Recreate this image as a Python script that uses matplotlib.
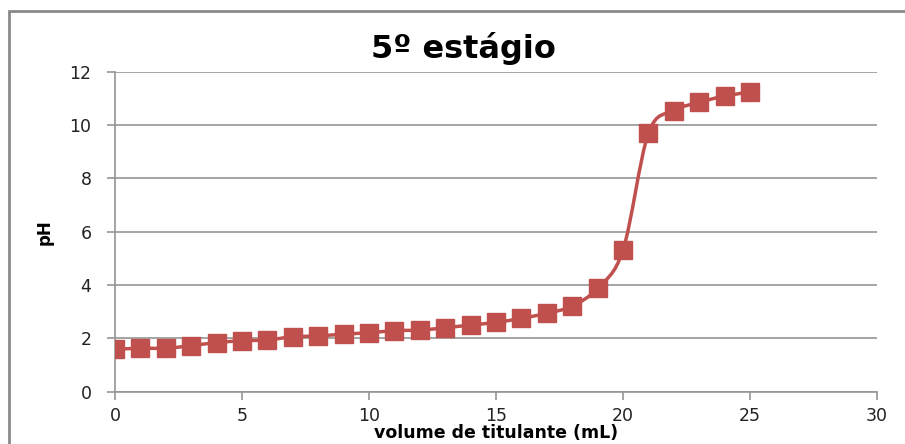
import numpy as np
import matplotlib.pyplot as plt
from matplotlib.path import Path
from matplotlib.patches import PathPatch, Rectangle

# titration data
volume = [0, 1, 2, 3, 4, 5, 6, 7, 8, 9, 10, 11, 12,
          13, 14, 15, 16, 17, 18, 19, 20, 21, 22, 23, 24, 25]
ph = [1.59, 1.63, 1.63, 1.73, 1.84, 1.91, 1.94, 2.06, 2.09, 2.16, 2.21, 2.29, 2.31,
      2.40, 2.50, 2.60, 2.75, 2.94, 3.21, 3.88, 5.31, 9.69, 10.54, 10.85, 11.09, 11.23]
xticks = [0, 5, 10, 15, 20, 25, 30]
yticks = [0, 2, 4, 6, 8, 10, 12]

red = '#C0504D'
grid = '#959595'

plt.rcParams['font.family'] = ['DejaVu Sans']

fig = plt.figure(figsize=(9.05, 4.44), dpi=100)
ax = fig.add_axes([115 / 905, 52.3 / 444, 762 / 905, 320 / 444])

# excel-like smoothed line: bezier segments through the points
pts = np.column_stack([volume, ph]).astype(float)
ext = np.vstack([pts[0], pts, pts[-1]])
verts = [pts[0]]
codes = [Path.MOVETO]
for i in range(len(pts) - 1):
    p0, p1, p2, p3 = ext[i], ext[i + 1], ext[i + 2], ext[i + 3]
    verts += [p1 + (p2 - p0) / 6, p2 - (p3 - p1) / 6, p2]
    codes += [Path.CURVE4] * 3
ax.add_patch(PathPatch(Path(verts, codes), fill=False, edgecolor=red, lw=2.5, zorder=3))
ax.plot(volume, ph, ls='none', marker='s', ms=13, color=red, mec=red, zorder=4)

ax.set_xlim(0, 30)
ax.set_ylim(0, 12)
ax.set_xticks(xticks)
ax.set_yticks(yticks)
ax.grid(axis='y', color=grid, lw=1.2)
ax.set_axisbelow(True)
for s in ['top', 'right']:
    ax.spines[s].set_visible(False)
for s in ['left', 'bottom']:
    ax.spines[s].set_color(grid)
    ax.spines[s].set_linewidth(1.2)
ax.tick_params(axis='y', direction='out', length=6, width=1.2, color=grid,
               pad=11, labelsize=12.5, labelcolor='#222222')
ax.tick_params(axis='x', direction='out', length=6, width=1.2, color=grid,
               pad=5, labelsize=12.5, labelcolor='#222222')

fig.text(463 / 905, 1 - 58 / 444, '5º estágio', fontsize=23, fontweight='bold',
         ha='center', va='baseline')
ax.set_ylabel('pH', fontsize=12, fontweight='bold')
ax.yaxis.set_label_coords(-0.081, 0.5)
ax.set_xlabel('volume de titulante (mL)', fontsize=12.5, fontweight='bold', va='bottom')
ax.xaxis.set_label_coords(0.5, -0.157)

# chart border (cut off at right and bottom in the original)
fig.patches.append(Rectangle((9 / 905, -0.1), 1.2, 1.1 - 11 / 444, transform=fig.transFigure,
                             fill=False, edgecolor='#8A8A8A', lw=2, figure=fig))

fig.savefig('out.png', dpi=100)
